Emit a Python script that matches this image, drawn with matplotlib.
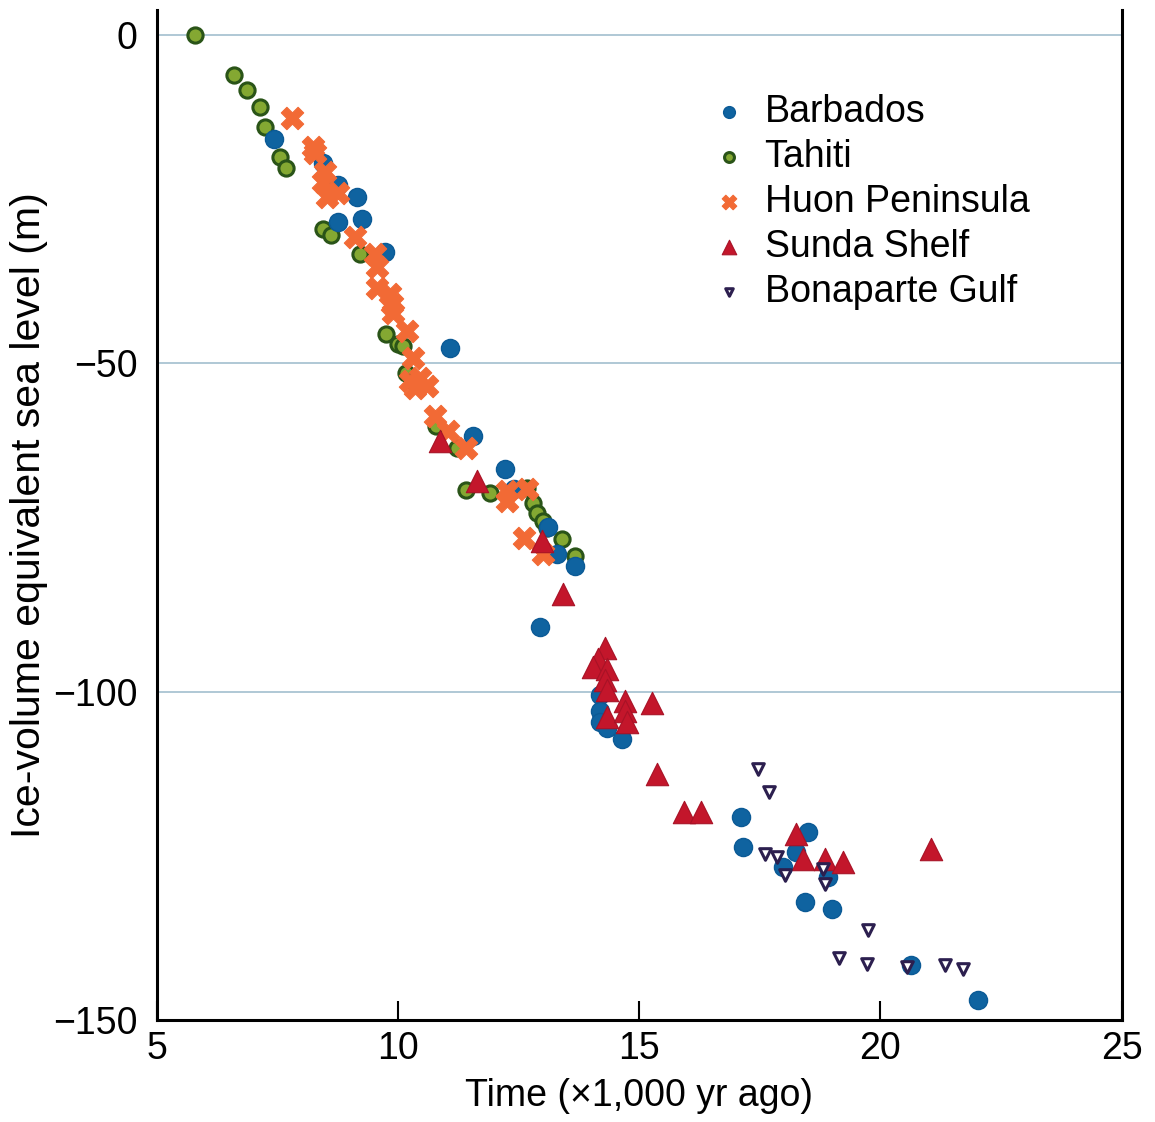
import matplotlib
matplotlib.use("Agg")
import matplotlib.pyplot as plt
from matplotlib import font_manager

names = {f.name for f in font_manager.fontManager.ttflist}
fam = ['Liberation Sans Narrow', 'Liberation Sans', 'DejaVu Sans']
fam = [f for f in fam if f in names] + ['DejaVu Sans']
plt.rcParams['font.family'] = fam

# --- data (time in kyr ago, ice-volume equivalent sea level in m) ---
barbados_x = [7.43, 8.44, 8.75, 9.15, 9.25, 8.75, 9.73, 11.08, 11.56, 12.22, 12.4, 13.1,
              13.3, 13.67, 12.95, 14.19, 14.19, 14.19, 14.34, 14.65, 17.1, 17.16, 18.5,
              18.24, 17.99, 18.92, 18.44, 19.0, 20.64, 22.03]
barbados_y = [-15.9, -19.5, -22.9, -24.7, -28.0, -28.5, -33.1, -47.6, -61.0, -66.1, -69.2, -75.0,
              -79.1, -80.9, -90.1, -100.5, -103.0, -104.6, -105.6, -107.2, -119.1, -123.7, -121.4,
              -124.4, -126.7, -128.2, -132.0, -133.1, -141.7, -146.9]

tahiti_x = [5.79, 6.6, 6.87, 7.14, 7.24, 7.55, 7.68, 8.44, 8.61, 9.2, 9.75, 10.0, 10.1,
            10.17, 10.3, 10.79, 11.22, 11.41, 11.9, 12.68, 12.8, 12.88, 13.0, 13.09, 13.4, 13.67]
tahiti_y = [0.0, -6.1, -8.4, -11.0, -14.0, -18.6, -20.3, -29.6, -30.5, -33.3, -45.5, -47.0, -47.3,
            -51.5, -52.7, -59.5, -62.9, -69.3, -69.8, -69.0, -71.3, -72.8, -74.0, -75.1, -76.8, -79.4]

huon_x = [7.8, 8.24, 8.28, 8.49, 8.45, 8.53, 8.75, 9.1, 9.52, 9.56, 9.56, 9.83, 9.88, 9.9,
          10.19, 10.31, 10.25, 10.46, 10.6, 10.35, 10.77, 11.04, 11.4, 12.26, 12.26, 12.68,
          12.6, 13.0]
huon_y = [-12.7, -17.1, -18.0, -20.9, -22.4, -24.7, -24.1, -30.8, -33.3, -35.4, -38.5, -39.4,
          -40.9, -42.4, -45.0, -49.2, -52.7, -52.2, -53.4, -53.7, -58.0, -60.3, -62.9, -69.5,
          -71.0, -69.2, -76.6, -79.1]

sunda_x = [10.87, 11.64, 12.99, 13.42, 14.29, 14.15, 14.05, 14.34, 14.29, 14.34, 14.34, 14.71,
           14.71, 14.75, 15.27, 15.37, 15.93, 16.29, 18.24, 18.4, 18.86, 19.23, 21.04]
sunda_y = [-61.8, -67.9, -77.1, -85.2, -93.4, -95.1, -96.2, -96.5, -98.2, -99.7, -103.8, -101.5,
           -103.0, -104.6, -101.8, -112.5, -118.3, -118.3, -121.7, -125.5, -125.5, -126.0, -124.0]

bonaparte_x = [17.47, 17.68, 17.61, 17.86, 18.03, 18.82, 18.86, 19.75, 19.15, 19.73, 20.56,
               21.35, 21.72]
bonaparte_y = [-111.8, -115.3, -124.7, -125.2, -128.0, -127.0, -129.3, -136.3, -140.5, -141.5,
               -142.0, -141.7, -142.3]

x_ticks = [5, 10, 15, 20, 25]
y_ticks = [0, -50, -100, -150]
y_tick_labels = ['0', '\u221250', '\u2212100', '\u2212150']

fig = plt.figure(figsize=(11.55, 11.22), dpi=100)
ax = fig.add_axes([0.136, 0.091, 0.835, 0.9])

for yv in [0, -50, -100]:
    ax.axhline(yv, color='#a9c4d2', lw=1.3, zorder=0)

ax.scatter(tahiti_x, tahiti_y, s=120, marker='o', facecolor='#84a832', edgecolor='#2a5418',
           linewidths=2.2, zorder=2, label='Tahiti')
ax.scatter(barbados_x, barbados_y, s=170, marker='o', facecolor='#0f63a0', edgecolor='#0b5a96',
           linewidths=1, zorder=3, label='Barbados')
ax.scatter(huon_x, huon_y, s=260, marker='X', facecolor='#f26a35', edgecolor='#f26a35',
           linewidths=0.8, zorder=4, label='Huon Peninsula')
ax.scatter(sunda_x, sunda_y, s=260, marker='^', facecolor='#c3162b', edgecolor='#a81226',
           linewidths=0.8, zorder=5, label='Sunda Shelf')
ax.scatter(bonaparte_x, bonaparte_y, s=70, marker='v', facecolor='white', edgecolor='#2c1f4f',
           linewidths=2.2, zorder=6, label='Bonaparte Gulf')

ax.set_xlim(5, 25)
ax.set_ylim(-150, 3.8)
ax.set_xticks(x_ticks)
ax.set_xticklabels([str(t) for t in x_ticks])
ax.set_yticks(y_ticks)
ax.set_yticklabels(y_tick_labels)
ax.tick_params(axis='x', direction='in', length=14, width=1.5, labelsize=27, pad=8)
ax.tick_params(axis='y', direction='in', length=0, labelsize=27, pad=14)
ax.spines['top'].set_visible(False)
for s in ['left', 'bottom', 'right']:
    ax.spines[s].set_linewidth(2.2)

ax.set_xlabel('Time (\u00d71,000 yr ago)', fontsize=27, labelpad=8)
ax.set_ylabel('Ice-volume equivalent sea level (m)', fontsize=29.5, labelpad=4)

handles, labels = ax.get_legend_handles_labels()
order = ['Barbados', 'Tahiti', 'Huon Peninsula', 'Sunda Shelf', 'Bonaparte Gulf']
hmap = dict(zip(labels, handles))
leg = ax.legend([hmap[k] for k in order], order, loc='upper right', bbox_to_anchor=(0.92, 0.932),
                frameon=False, fontsize=27, handletextpad=0.45, labelspacing=0.24,
                markerscale=0.65, handlelength=1.0, borderaxespad=0)

fig.savefig('out.png', dpi=100)
